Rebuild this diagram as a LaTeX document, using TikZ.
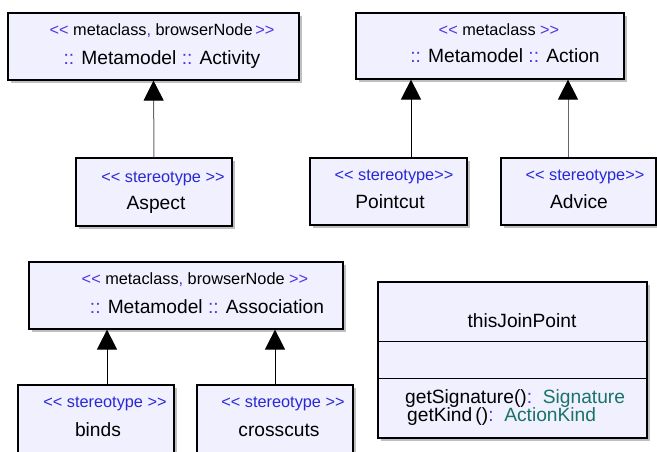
\documentclass[tikz,border=0pt]{standalone}
\usepackage{fontspec}
\setmainfont{Liberation Sans}
\usepackage{tikz}
\usetikzlibrary{arrows.meta,shadows}
\definecolor{boxfill}{RGB}{240,240,255}
\definecolor{stereoblue}{RGB}{40,40,215}
\definecolor{punct}{RGB}{80,50,225}
\definecolor{typeref}{RGB}{25,115,105}
\newcommand{\sopen}{\textcolor{punct}{<\kern0pt<}}
\newcommand{\sclose}{\textcolor{punct}{>\kern0pt>}}
\newcommand{\dcolon}{\textcolor{punct}{::}}
\newcommand{\stereotag}[1]{\textcolor{stereoblue}{<\kern0pt< stereotype#1>\kern0pt>}}
\tikzset{umlbox/.style={rectangle, draw=black, line width=1.2pt, fill=boxfill, inner sep=0pt,
      drop shadow={shadow xshift=3pt, shadow yshift=-3pt, fill=black!25, opacity=1}}}
\tikzset{sttext/.style={anchor=base, inner sep=0pt, font=\fontsize{16.3}{19}\selectfont},
  nametext/.style={anchor=base, inner sep=0pt, font=\fontsize{19.2}{23}\selectfont}}
\tikzset{gen/.style={-{Triangle[width=20pt,length=20pt,color=black]}, line width=1pt},
  gengray/.style={gen, draw=black!60}}

\begin{document}
\begin{tikzpicture}[x=1pt, y=-1pt]
    \useasboundingbox (0,0) rectangle (657,452);
    \node[umlbox, minimum width=291pt, minimum height=67pt] (activity) at (153.5,46.5) {};
    \node[umlbox, minimum width=268pt, minimum height=66pt] (action) at (490,46) {};
    \node[umlbox, minimum width=156pt, minimum height=68pt] (aspect) at (154,192) {};
    \node[umlbox, minimum width=157pt, minimum height=67pt] (pointcut) at (388.5,191.5) {};
    \node[umlbox, minimum width=155pt, minimum height=67pt] (advice) at (578.5,191.5) {};
    \node[umlbox, minimum width=314pt, minimum height=67pt] (association) at (186,295.5) {};
    \node[umlbox, minimum width=156pt, minimum height=68pt] (binds) at (96,419) {};
    \node[umlbox, minimum width=156pt, minimum height=68pt] (crosscuts) at (275,419) {};
    \node[umlbox, minimum width=269pt, minimum height=156pt] (joinpoint) at (512.5,360) {};
    \node[sttext] (activity-st) at (162,36) {\sopen{} metaclass\textcolor{punct}{,} browserNode\,\sclose};
    \node[nametext] (activity-nm) at (162,65) {\dcolon{} Metamodel \dcolon{} Activity};
    \node[sttext] (action-st) at (499,36) {\sopen{} metaclass \sclose};
    \node[nametext] (action-nm) at (505,63) {\dcolon{} Metamodel \dcolon{} Action};
    \node[sttext] (aspect-st) at (163,182.5) {\stereotag{ }};
    \node[nametext] (aspect-nm) at (156,209) {Aspect};
    \node[sttext] (pointcut-st) at (394,181) {\stereotag{}};
    \node[nametext] (pointcut-nm) at (390,208) {Pointcut};
    \node[sttext] (advice-st) at (585,181) {\stereotag{}};
    \node[nametext] (advice-nm) at (579,208) {Advice};
    \node[sttext] (association-st) at (195,284) {\sopen{} metaclass\textcolor{punct}{,} browserNode \sclose};
    \node[nametext] (association-nm) at (207,313) {\dcolon{} Metamodel \dcolon{} Association};
    \node[sttext] (binds-st) at (105,407) {\stereotag{ }};
    \node[nametext] (binds-nm) at (98,436) {binds};
    \node[sttext] (crosscuts-st) at (283,407) {\stereotag{ }};
    \node[nametext] (crosscuts-nm) at (279,436) {crosscuts};
    \node[nametext] (joinpoint-nm) at (522,327) {thisJoinPoint};
    \node[nametext, anchor=base west] (joinpoint-op1) at (405,403) {getSignature()\textcolor{punct}{:}~~\textcolor{typeref}{Signature}};
    \node[nametext, anchor=base west] (joinpoint-op2) at (407,421) {getKind\,()\textcolor{punct}{:}~~\textcolor{typeref}{ActionKind}};
    \draw[line width=0.8pt] (joinpoint.west |- 0,341) -- (joinpoint.east |- 0,341);
    \draw[line width=0.8pt] (joinpoint.west |- 0,378) -- (joinpoint.east |- 0,378);
    \draw[gengray] (aspect.north) -- (activity.south);
    \draw[gen] ([xshift=22.5pt]pointcut.north) -- ([xshift=22.5pt]pointcut.north |- action.south);
    \draw[gengray] ([xshift=-10.5pt]advice.north) -- ([xshift=-10.5pt]advice.north |- action.south);
    \draw[gen] ([xshift=11pt]binds.north) -- ([xshift=11pt]binds.north |- association.south);
    \draw[gen] (crosscuts.north) -- (crosscuts.north |- association.south);
  \end{tikzpicture}
\end{document}
